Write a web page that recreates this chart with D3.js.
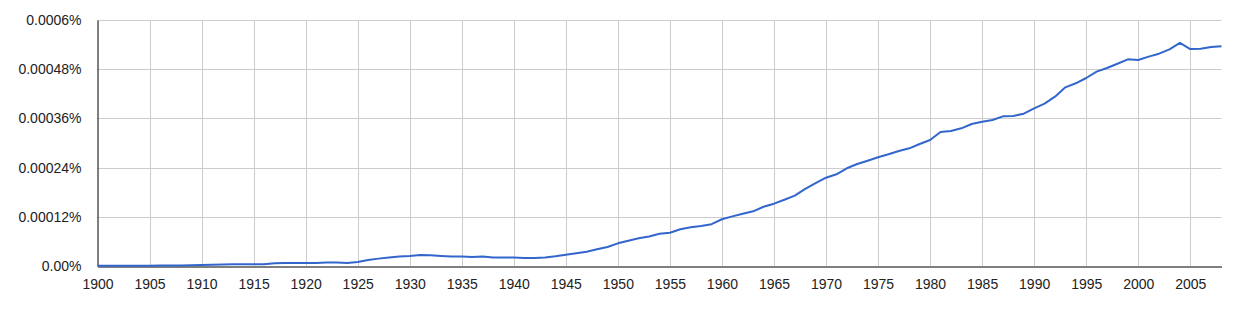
<!DOCTYPE html>
<html>
<head>
<meta charset="utf-8">
<script src="https://cdn.jsdelivr.net/npm/d3@7"></script>
<style>
  body { margin: 0; background: #fff; }
  text { font-family: "Liberation Sans", Arial, sans-serif; font-size: 14px; fill: #222; }
</style>
</head>
<body>
<script>
var width = 1256
var height = 328

// years 1900..2008, values in percent
var years = d3.range(1900, 2009)
var values = [
  0.0000005, 0.0000005, 0.0000005, 0.0000005, 0.0000005, 0.0000005, 0.000001, 0.000001, 0.0000012, 0.0000018,
  0.0000024, 0.000003, 0.0000037, 0.000004, 0.000004, 0.000004, 0.000004, 0.0000068, 0.0000073, 0.0000073,
  0.0000073, 0.0000076, 0.0000083, 0.0000083, 0.0000073, 0.0000098, 0.0000146, 0.000018, 0.000021, 0.000023,
  0.0000244, 0.0000268, 0.000026, 0.0000244, 0.000023, 0.000023, 0.000022, 0.000023, 0.000021, 0.000021,
  0.000021, 0.0000195, 0.0000195, 0.000021, 0.0000236, 0.0000276, 0.000031, 0.0000349, 0.0000407, 0.0000463,
  0.0000553, 0.0000617, 0.0000675, 0.000072, 0.0000788, 0.0000812, 0.0000895, 0.0000944, 0.0000976, 0.000102,
  0.000114, 0.000121, 0.0001276, 0.0001334, 0.0001446, 0.000152, 0.0001617, 0.0001715, 0.000188, 0.0002024,
  0.0002154, 0.0002236, 0.0002383, 0.0002488, 0.0002568, 0.0002651, 0.0002724, 0.0002805, 0.000287, 0.0002976,
  0.0003073, 0.0003268, 0.0003293, 0.0003358, 0.0003463, 0.000352, 0.0003561, 0.000365, 0.0003659, 0.0003715,
  0.0003846, 0.0003959, 0.000413, 0.0004358, 0.0004456, 0.0004585, 0.000474, 0.000483, 0.0004934, 0.0005041,
  0.0005024, 0.0005106, 0.0005178, 0.0005285, 0.000544, 0.000529, 0.00053, 0.0005341, 0.0005358
]
var yTicks = [0, 0.00012, 0.00024, 0.00036, 0.00048, 0.0006]
var yTickLabels = ["0.00%", "0.00012%", "0.00024%", "0.00036%", "0.00048%", "0.0006%"]
var xTicks = d3.range(1900, 2009, 5)

var data = years.map(function(y, i) { return { year: y, value: values[i] } })

var x = d3.scaleLinear().domain([1900, 2008]).range([97.5, 1221.5])
var y = d3.scaleLinear().domain([0, 0.0006]).range([266, 20])

var svg = d3.select("body")
  .append("svg")
  .attr("width", width)
  .attr("height", height)

// grid
svg.append("g")
  .selectAll("line")
  .data(yTicks.slice(1))
  .enter().append("line")
  .attr("x1", x(1900)).attr("x2", x(2008))
  .attr("y1", function(d) { return Math.round(y(d)) + 0.5 })
  .attr("y2", function(d) { return Math.round(y(d)) + 0.5 })
  .attr("stroke", "#ccc")

svg.append("g")
  .selectAll("line")
  .data(xTicks.slice(1))
  .enter().append("line")
  .attr("x1", function(d) { return Math.round(x(d)) + 0.5 })
  .attr("x2", function(d) { return Math.round(x(d)) + 0.5 })
  .attr("y1", y(0.0006)).attr("y2", y(0))
  .attr("stroke", "#ccc")

// axes
var yAxis = d3.axisLeft(y)
  .tickValues(yTicks)
  .tickSize(0)
  .tickPadding(16)
  .tickFormat(function(d, i) { return yTickLabels[i] })

var xAxis = d3.axisBottom(x)
  .tickValues(xTicks)
  .tickSize(0)
  .tickPadding(13)
  .tickFormat(d3.format("d"))

var gy = svg.append("g")
  .attr("transform", "translate(" + (Math.round(x(1900)) - 0.5) + ",0)")
  .call(yAxis)
gy.select(".domain").attr("stroke", "#000")
gy.selectAll("text").attr("font-size", 14).attr("fill", "#222").attr("font-family", null)

var gx = svg.append("g")
  .attr("transform", "translate(0," + (y(0) + 0.5) + ")")
  .call(xAxis)
gx.select(".domain").attr("stroke", "#000")
gx.selectAll("text").attr("font-size", 14).attr("fill", "#222").attr("font-family", null)

// line
var line = d3.line()
  .x(function(d) { return x(d.year) })
  .y(function(d) { return y(d.value) })

svg.append("path")
  .datum(data)
  .attr("fill", "none")
  .attr("stroke", "#3366cc")
  .attr("stroke-width", 2)
  .attr("stroke-linejoin", "round")
  .attr("d", line)
</script>
</body>
</html>
